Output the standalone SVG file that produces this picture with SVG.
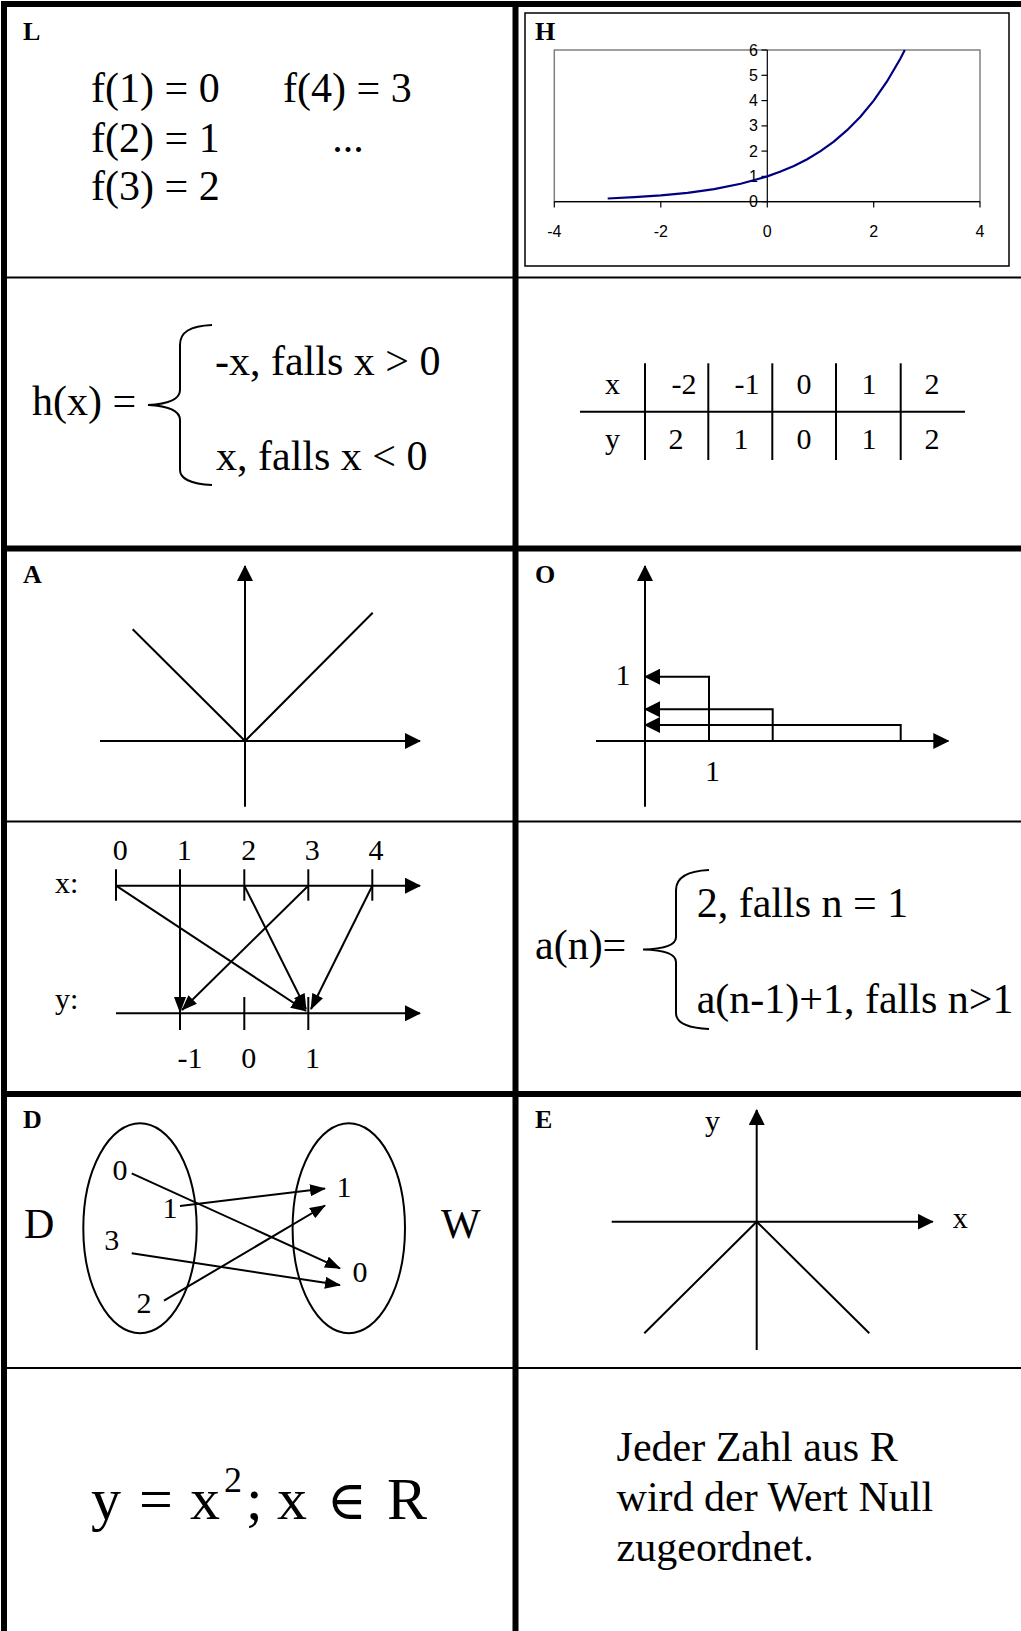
<svg xmlns="http://www.w3.org/2000/svg" width="1021" height="1631" viewBox="0 0 1021 1631">
<defs>
<style>
.t{font-family:"Liberation Serif","Times New Roman","DejaVu Serif",serif;fill:#000}
.b42{font-size:42px}
.m30{font-size:30px}
.lbl{font-size:26px;font-weight:bold}
.thick{stroke:#000;stroke-width:6}
.thin{stroke:#000;stroke-width:2}
.ln{stroke:#000;stroke-width:2;fill:none}
.cs{font-family:"Liberation Sans",Arial,sans-serif;font-size:16px;fill:#000}
.mid{text-anchor:middle}
.end{text-anchor:end}
</style>
<marker id="ah" viewBox="0 0 16 16" markerWidth="16" markerHeight="16" refX="15" refY="8" orient="auto" markerUnits="userSpaceOnUse"><path d="M0,0 L16,8 L0,16 Z" fill="#000"/></marker>
<marker id="as" viewBox="0 0 16 12" markerWidth="16" markerHeight="12" refX="15" refY="6" orient="auto" markerUnits="userSpaceOnUse"><path d="M0,0 L16,6 L0,12 Z" fill="#000"/></marker>
</defs>
<rect width="1021" height="1631" fill="#fff"/>

<g id="grid">
<line class="thick" x1="1" y1="4" x2="1021" y2="4"/>
<line class="thin" x1="4" y1="277.5" x2="1021" y2="277.5"/>
<line class="thick" x1="1" y1="548.5" x2="1021" y2="548.5"/>
<line class="thin" x1="4" y1="821.5" x2="1021" y2="821.5"/>
<line class="thick" x1="1" y1="1094" x2="1021" y2="1094"/>
<line class="thin" x1="4" y1="1368" x2="1021" y2="1368"/>
<line class="thick" x1="4" y1="1" x2="4" y2="1631"/>
<line class="thick" x1="515.5" y1="1" x2="515.5" y2="1631"/>
</g>

<g id="cell-L">
<text class="t lbl" x="23" y="40">L</text>
<text class="t b42" x="91" y="102">f(1) = 0</text>
<text class="t b42" x="91" y="152">f(2) = 1</text>
<text class="t b42" x="91" y="200">f(3) = 2</text>
<text class="t b42" x="283" y="102">f(4) = 3</text>
<text class="t b42 mid" x="348" y="152">...</text>
</g>

<g id="cell-H">
<rect x="525" y="13" width="484" height="253" fill="none" stroke="#000" stroke-width="1.5"/>
<text class="t lbl" x="535" y="40">H</text>
<rect x="554.3" y="50" width="425.7" height="151.7" fill="none" stroke="#808080" stroke-width="1.5"/>
<g stroke="#000" stroke-width="1.2">
<line x1="554.3" y1="201.7" x2="980" y2="201.7"/>
<line x1="767.3" y1="50" x2="767.3" y2="201.7"/>
<line x1="761.5" y1="201.7" x2="767.3" y2="201.7"/>
<line x1="761.5" y1="176.4" x2="767.3" y2="176.4"/>
<line x1="761.5" y1="151.1" x2="767.3" y2="151.1"/>
<line x1="761.5" y1="125.9" x2="767.3" y2="125.9"/>
<line x1="761.5" y1="100.6" x2="767.3" y2="100.6"/>
<line x1="761.5" y1="75.3" x2="767.3" y2="75.3"/>
<line x1="761.5" y1="50" x2="767.3" y2="50"/>
<line x1="554.3" y1="201.7" x2="554.3" y2="207.5"/>
<line x1="660.8" y1="201.7" x2="660.8" y2="207.5"/>
<line x1="767.3" y1="201.7" x2="767.3" y2="207.5"/>
<line x1="873.7" y1="201.7" x2="873.7" y2="207.5"/>
<line x1="980" y1="201.7" x2="980" y2="207.5"/>
</g>
<g class="cs end">
<text x="758" y="207.2">0</text>
<text x="758" y="181.9">1</text>
<text x="758" y="156.6">2</text>
<text x="758" y="131.4">3</text>
<text x="758" y="106.1">4</text>
<text x="758" y="80.8">5</text>
<text x="758" y="55.5">6</text>
</g>
<g class="cs mid">
<text x="554.3" y="236.5">-4</text>
<text x="660.8" y="236.5">-2</text>
<text x="767.3" y="236.5">0</text>
<text x="873.7" y="236.5">2</text>
<text x="980" y="236.5">4</text>
</g>
<polyline fill="none" stroke="#000080" stroke-width="2.2" points="607.7,198.5 634.3,197.2 660.9,195.4 687.5,192.8 714.1,189.1 740.7,183.8 767.3,176.4 780.6,171.6 793.9,166.0 807.2,159.2 820.5,151.1 833.8,141.6 847.1,130.2 860.4,116.7 873.7,100.6 887.0,81.5 900.3,58.7 904.8,50.0"/>
</g>

<g id="cell-h">
<text class="t b42" x="32" y="415">h(x) =</text>
<path class="ln" d="M212,325 C190,326 180,332 180,345 V390 C180,400 168,404 148,405 C168,406 180,410 180,420 V470 C180,478 190,484 212,485"/>
<text class="t b42" x="215" y="375">-x, falls x &gt; 0</text>
<text class="t b42" x="216" y="470">x, falls x &lt; 0</text>
</g>

<g id="cell-table">
<line class="ln" x1="580" y1="411.7" x2="965" y2="411.7"/>
<line class="ln" x1="645" y1="363.3" x2="645" y2="460"/>
<line class="ln" x1="708.3" y1="363.3" x2="708.3" y2="460"/>
<line class="ln" x1="772.3" y1="363.3" x2="772.3" y2="460"/>
<line class="ln" x1="836" y1="363.3" x2="836" y2="460"/>
<line class="ln" x1="900.7" y1="363.3" x2="900.7" y2="460"/>
<g class="t m30 mid">
<text x="612.5" y="394">x</text>
<text x="684" y="394">-2</text>
<text x="747" y="394">-1</text>
<text x="804" y="394">0</text>
<text x="869" y="394">1</text>
<text x="932" y="394">2</text>
<text x="612.5" y="449">y</text>
<text x="676" y="449">2</text>
<text x="741" y="449">1</text>
<text x="804" y="449">0</text>
<text x="869" y="449">1</text>
<text x="932" y="449">2</text>
</g>
</g>

<g id="cell-A">
<text class="t lbl" x="23" y="583">A</text>
<line class="ln" x1="245" y1="806.7" x2="245" y2="566" marker-end="url(#ah)"/>
<line class="ln" x1="100" y1="741" x2="420" y2="741" marker-end="url(#ah)"/>
<polyline class="ln" points="132.7,629.3 245,741 372.7,612.7"/>
</g>

<g id="cell-O">
<text class="t lbl" x="535" y="583">O</text>
<line class="ln" x1="645" y1="806.7" x2="645" y2="566" marker-end="url(#ah)"/>
<line class="ln" x1="596" y1="741" x2="948.3" y2="741" marker-end="url(#ah)"/>
<path class="ln" d="M709,741 V676.7 H645" marker-end="url(#ah)"/>
<path class="ln" d="M772.7,741 V709.3 H645" marker-end="url(#ah)"/>
<path class="ln" d="M900.7,741 V725 H645" marker-end="url(#ah)"/>
<text class="t m30 mid" x="623" y="685">1</text>
<text class="t m30 mid" x="712.5" y="780.5">1</text>
</g>

<g id="cell-map">
<line class="ln" x1="116" y1="885.7" x2="420" y2="885.7" marker-end="url(#ah)"/>
<line class="ln" x1="116" y1="1013.3" x2="420" y2="1013.3" marker-end="url(#ah)"/>
<g class="ln">
<line x1="116" y1="869.3" x2="116" y2="900.7"/>
<line x1="180" y1="869.3" x2="180" y2="900.7"/>
<line x1="244.3" y1="869.3" x2="244.3" y2="900.7"/>
<line x1="308.3" y1="869.3" x2="308.3" y2="900.7"/>
<line x1="372.3" y1="869.3" x2="372.3" y2="900.7"/>
<line x1="180" y1="997" x2="180" y2="1030"/>
<line x1="244.3" y1="997" x2="244.3" y2="1030"/>
<line x1="308.3" y1="997" x2="308.3" y2="1030"/>
</g>
<g class="t m30 mid">
<text x="120.3" y="860">0</text>
<text x="184.3" y="860">1</text>
<text x="248.7" y="860">2</text>
<text x="312.3" y="860">3</text>
<text x="376" y="860">4</text>
<text x="190" y="1068">-1</text>
<text x="248.7" y="1068">0</text>
<text x="312.5" y="1068">1</text>
</g>
<text class="t m30" x="55" y="893">x:</text>
<text class="t m30" x="55" y="1009">y:</text>
</g>

<g id="cell-an">
<text class="t b42" x="535" y="958.5">a(n)=</text>
<path class="ln" d="M709,870 C687,871 676,877 676,890 V937 C676,945 664,949 643,949.5 C664,950 676,954 676,962 V1013 C676,1023 687,1028 709,1029"/>
<text class="t b42" x="696.7" y="917.3">2, falls n = 1</text>
<text class="t b42" x="696.7" y="1013">a(n-1)+1, falls n&gt;1</text>
</g>

<g id="cell-D">
<text class="t lbl" x="23" y="1128">D</text>
<text class="t b42" x="24" y="1238">D</text>
<text class="t b42" x="441" y="1238">W</text>
<ellipse class="ln" cx="140" cy="1228.3" rx="56.7" ry="105"/>
<ellipse class="ln" cx="348.8" cy="1228.3" rx="56.2" ry="105"/>
<g class="t m30 mid">
<text x="120" y="1180">0</text>
<text x="170" y="1218.3">1</text>
<text x="111.7" y="1250">3</text>
<text x="144" y="1313.3">2</text>
<text x="344" y="1196.7">1</text>
<text x="360" y="1281.7">0</text>
</g>
</g>

<g id="cell-E">
<text class="t lbl" x="535" y="1128">E</text>
<line class="ln" x1="756.7" y1="1350" x2="756.7" y2="1110" marker-end="url(#ah)"/>
<line class="ln" x1="611.7" y1="1221.7" x2="932.7" y2="1221.7" marker-end="url(#ah)"/>
<polyline class="ln" points="644.3,1333.3 756.7,1221.7 869.3,1333.3"/>
<text class="t m30 mid" x="712.5" y="1131">y</text>
<text class="t m30 mid" x="960.3" y="1228.3">x</text>
</g>

<g id="cell-eq">
<text class="t" y="1519" font-size="60"><tspan x="91">y</tspan><tspan x="139">=</tspan><tspan x="190">x</tspan><tspan x="224" y="1492" font-size="36">2</tspan><tspan x="246" y="1519">;</tspan><tspan x="277">x</tspan><tspan x="327" font-size="54">∈</tspan><tspan x="387">R</tspan></text>
</g>

<g id="cell-text">
<text class="t b42" x="616.6" y="1461">Jeder Zahl aus R</text>
<text class="t b42" x="616.6" y="1511">wird der Wert Null</text>
<text class="t b42" x="616.6" y="1561">zugeordnet.</text>
</g>

<g id="connectors" class="ln">
<line x1="180" y1="885.7" x2="180" y2="1012" marker-end="url(#as)"/>
<line x1="116" y1="885.7" x2="306" y2="1011" marker-end="url(#as)"/>
<line x1="308.3" y1="885.7" x2="182" y2="1010" marker-end="url(#as)"/>
<line x1="244.3" y1="885.7" x2="306" y2="1009" marker-end="url(#as)"/>
<line x1="372.3" y1="885.7" x2="311" y2="1009" marker-end="url(#as)"/>
<line x1="131.7" y1="1173.3" x2="340" y2="1268.3" marker-end="url(#as)"/>
<line x1="180" y1="1206" x2="325" y2="1188.5" marker-end="url(#as)"/>
<line x1="131.7" y1="1253.3" x2="340" y2="1285" marker-end="url(#as)"/>
<line x1="164" y1="1300.7" x2="325" y2="1205.5" marker-end="url(#as)"/>
</g>
</svg>
